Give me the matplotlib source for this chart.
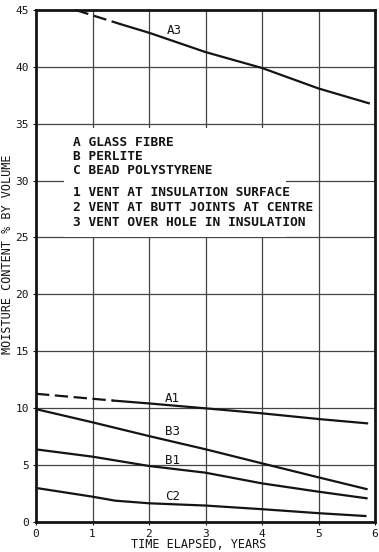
import matplotlib
matplotlib.use("Agg")
import matplotlib.pyplot as plt
from matplotlib.patches import Rectangle

# ---- data ----
a3_dash_years = [0.7, 1.5]
a3_dash_vals = [45.0, 43.75]
a3_years = [1.5, 2.0, 3.0, 4.0, 5.0, 5.89]
a3_vals = [43.75, 43.0, 41.3, 39.9, 38.1, 36.8]

a1_dash_years = [0.0, 1.37]
a1_dash_vals = [11.25, 10.65]
a1_years = [1.37, 2.0, 3.0, 4.0, 5.0, 5.86]
a1_vals = [10.65, 10.4, 9.97, 9.53, 9.03, 8.65]

b3_years = [0.0, 1.0, 2.0, 3.0, 4.0, 5.0, 5.85]
b3_vals = [9.9, 8.74, 7.53, 6.37, 5.13, 3.9, 2.87]

b1_years = [0.0, 1.0, 2.0, 3.0, 4.0, 5.0, 5.85]
b1_vals = [6.36, 5.72, 4.9, 4.31, 3.37, 2.64, 2.06]

c2_years = [0.05, 1.0, 1.4, 2.0, 3.0, 4.0, 5.0, 5.83]
c2_vals = [2.93, 2.2, 1.85, 1.62, 1.42, 1.1, 0.75, 0.5]

curve_labels = ["A3", "A1", "B3", "B1", "C2"]
label_pos = [(2.45, 43.2), (2.41, 10.85), (2.41, 7.9), (2.41, 5.42), (2.41, 2.25)]

legend_lines = ["A GLASS FIBRE", "B PERLITE", "C BEAD POLYSTYRENE"]
legend_lines2 = ["1 VENT AT INSULATION SURFACE",
                 "2 VENT AT BUTT JOINTS AT CENTRE",
                 "3 VENT OVER HOLE IN INSULATION"]

x_ticks = [0, 1, 2, 3, 4, 5, 6]
y_ticks = [0, 5, 10, 15, 20, 25, 30, 35, 40, 45]

FONT = "DejaVu Sans Mono"
INK = "#141414"

fig = plt.figure(figsize=(3.79, 5.52), dpi=100)
ax = fig.add_axes([36 / 379, 1 - 521.7 / 552, (375 - 36) / 379, (521.7 - 10) / 552])
ax.set_xlim(0, 6)
ax.set_ylim(0, 45)

# grid
for x in x_ticks[1:-1]:
    ax.axvline(x, color="#444444", lw=0.9, zorder=0.5)
for y in y_ticks[1:-1]:
    ax.axhline(y, color="#444444", lw=0.9, zorder=0.5)
# white box behind the key
ax.add_patch(Rectangle((0.5, 25.08), 3.92, 34.6 - 25.08, facecolor="white",
                       edgecolor="none", zorder=0.8))

lw = 1.6
ax.plot(a3_dash_years, a3_dash_vals, color=INK, lw=lw,
        dashes=(6, 2.5), zorder=2, clip_on=False)
ax.plot(a3_years, a3_vals, color=INK, lw=lw, zorder=2)
ax.plot(a1_dash_years, a1_dash_vals, color=INK, lw=lw, dashes=(6, 2.5), zorder=2)
ax.plot(a1_years, a1_vals, color=INK, lw=lw, zorder=2)
ax.plot(b3_years, b3_vals, color=INK, lw=lw, zorder=2)
ax.plot(b1_years, b1_vals, color=INK, lw=lw, zorder=2)
ax.plot(c2_years, c2_vals, color=INK, lw=lw, zorder=2)

for lab, (x, y) in zip(curve_labels, label_pos):
    ax.text(x, y, lab, family=FONT, fontsize=9, color=INK,
            ha="center", va="center", zorder=3)

# key text
ys1 = [142, 156.5, 171]
ys2 = [193, 207.5, 222]
for t, yp in zip(legend_lines, ys1):
    fig.text(73 / 379, 1 - yp / 552, t, family=FONT, fontsize=9.3, color=INK,
             ha="left", va="center", weight="bold")
for t, yp in zip(legend_lines2, ys2):
    fig.text(73 / 379, 1 - yp / 552, t, family=FONT, fontsize=9.3, color=INK,
             ha="left", va="center", weight="bold")

for s in ax.spines.values():
    s.set_linewidth(2.0)
    s.set_color(INK)

ax.set_xticks(x_ticks)
ax.set_yticks(y_ticks)
ax.set_xticklabels([str(v) for v in x_ticks], family=FONT, fontsize=8, color=INK)
ax.set_yticklabels([str(v) for v in y_ticks], family=FONT, fontsize=8, color=INK)
ax.tick_params(length=2, width=0.8, pad=3, color=INK)

fig.text(199 / 379, 1.5 / 552, "TIME ELAPSED, YEARS", family=FONT,
         fontsize=8.5, color=INK, ha="center", va="bottom")
fig.text(1 / 379, 1 - 254 / 552, "MOISTURE CONTENT % BY VOLUME", family=FONT,
         fontsize=8.5, color=INK, ha="left", va="center", rotation=90)

fig.savefig("out.png", dpi=100)
